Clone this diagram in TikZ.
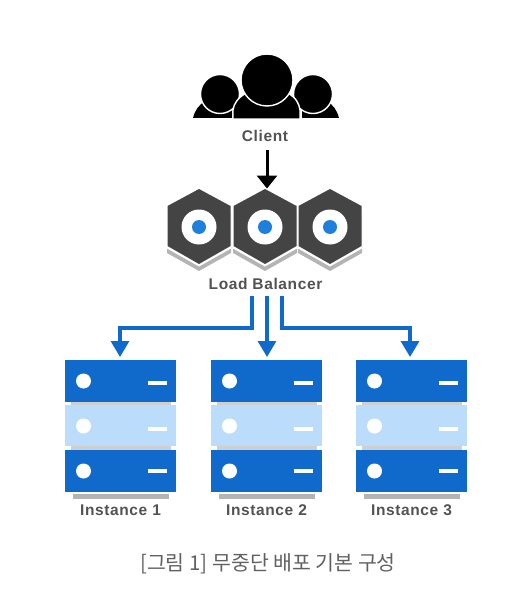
\documentclass[tikz,border=0pt]{standalone}
\usepackage{fontspec}
\setmainfont{Liberation Sans}[LetterSpace=4]
\newfontfamily\krfont{Noto Sans CJK KR}
\usetikzlibrary{arrows.meta,shapes.geometric}
\definecolor{srvblue}{HTML}{0F6ACB}
\definecolor{srvlight}{HTML}{BBDDFB}
\definecolor{dotblue}{HTML}{1F7FDC}
\definecolor{hexgray}{HTML}{444444}
\definecolor{shadegray}{HTML}{B4B4B4}
\definecolor{gapgray}{HTML}{CFCFCF}
\tikzset{
  x=1pt,y=-1pt,
  lbl/.style={font=\bfseries\fontsize{15.5}{17}\selectfont,text=black!68,inner sep=0pt},
  flow/.style={draw=srvblue,line width=3.4pt,-{Triangle[length=16pt,width=18pt]}},
  tier/.style={minimum width=111pt,minimum height=42pt,inner sep=0pt,outer sep=0pt},
  dotw/.style={fill=#1,circle,inner sep=0pt,minimum size=15pt},
  barw/.style={fill=#1,inner sep=0pt,minimum width=19pt,minimum height=4.5pt},
  head/.style={fill=black,draw=white,line width=1.4pt,circle,inner sep=0pt,minimum size=#1},
}
\newcommand{\hexa}[2]{% name, x
  \fill[shadegray] (#2,196) -- (#2+32,214) -- (#2+32,253) -- (#2,271) -- (#2-32,253) -- (#2-32,214) -- cycle;
  \fill[white] (#2,190) -- (#2+32,208) -- (#2+32,248.5) -- (#2,266.5) -- (#2-32,248.5) -- (#2-32,208) -- cycle;
  \fill[hexgray] (#2,189) -- (#2+31.5,206) -- (#2+31.5,246) -- (#2,264) -- (#2-31.5,246) -- (#2-31.5,206) -- cycle;
  \node[circle,fill=white,minimum size=35pt,inner sep=0pt] (#1) at (#2,227) {};
  \node[circle,fill=dotblue,minimum size=14pt,inner sep=0pt] at (#2,227) {};
}
\newcommand{\server}[3]{% name, centre x, label
  \fill[gapgray] (#2-50,402) rectangle (#2+50,405.5);
  \fill[gapgray] (#2-50,446) rectangle (#2+50,450);
  \fill[shadegray] (#2-48,493.5) rectangle (#2+48,498.5);
  \node[tier,fill=srvblue] (#1a) at (#2,381) {};
  \node[tier,fill=srvlight,minimum height=41pt] (#1b) at (#2,425.5) {};
  \node[tier,fill=srvblue] (#1c) at (#2,471) {};
  \node[dotw=white] at (#2-37,381) {};
  \node[barw=white] at (#2+36.5,383) {};
  \node[dotw=white] at (#2-37,426) {};
  \node[barw=white] at (#2+36.5,429) {};
  \node[dotw=white] at (#2-37,471) {};
  \node[barw=white] at (#2+36.5,471) {};
  \node[lbl] (#1l) at (#2,510.5) {#3};
}
\begin{document}
\begin{tikzpicture}
\useasboundingbox (0,0) rectangle (529,596);
% client icon
\fill[black] (193,118) .. controls (195,110) and (199,105) .. (205,101) -- (232,101) -- (232,118) -- cycle;
\fill[black] (339,118) .. controls (337,110) and (333,105) .. (327,101) -- (302,101) -- (302,118) -- cycle;
\node[head=39pt] (hl) at (220,94) {};
\node[head=39pt] (hr) at (313,94) {};
\fill[black,draw=white,line width=1.4pt] (233,119) -- (233,110) .. controls (234,103) and (238,98) .. (246,93) -- (288,93) .. controls (296,98) and (299,103) .. (300,110) -- (300,119) -- cycle;
\node[head=52pt] (hc) at (267,80) {};
\node[lbl] (client) at (265,136) {Client};
% load balancer
\hexa{h1}{199}
\hexa{h3}{330}
\hexa{h2}{265}
\node[lbl] (lb) at (265.5,284) {Load Balancer};
\coordinate (hubtop) at (267,188.5);
\coordinate (clientout) at (267,150);
\draw[line width=3pt,-{Triangle[length=13pt,width=20pt]}] (clientout) -- (hubtop);
% instances
\server{a}{120.5}{Instance 1}
\server{b}{266.5}{Instance 2}
\server{c}{411.5}{Instance 3}
\coordinate (o1) at (252,296);
\coordinate (o2) at (267,296);
\coordinate (o3) at (282,296);
\coordinate (t1) at (120,357);
\coordinate (t2) at (267,357);
\coordinate (t3) at (410,357);
\draw[flow] (o1) |- (120,328) -- (t1);
\draw[flow] (o2) -- (t2);
\draw[flow] (o3) |- (410,328) -- (t3);
\node[font=\krfont\fontsize{20.5}{24}\selectfont,text=black!62,inner sep=0pt] (cap) at (268,563.5) {[그림 1] 무중단 배포 기본 구성};
\end{tikzpicture}
\end{document}
